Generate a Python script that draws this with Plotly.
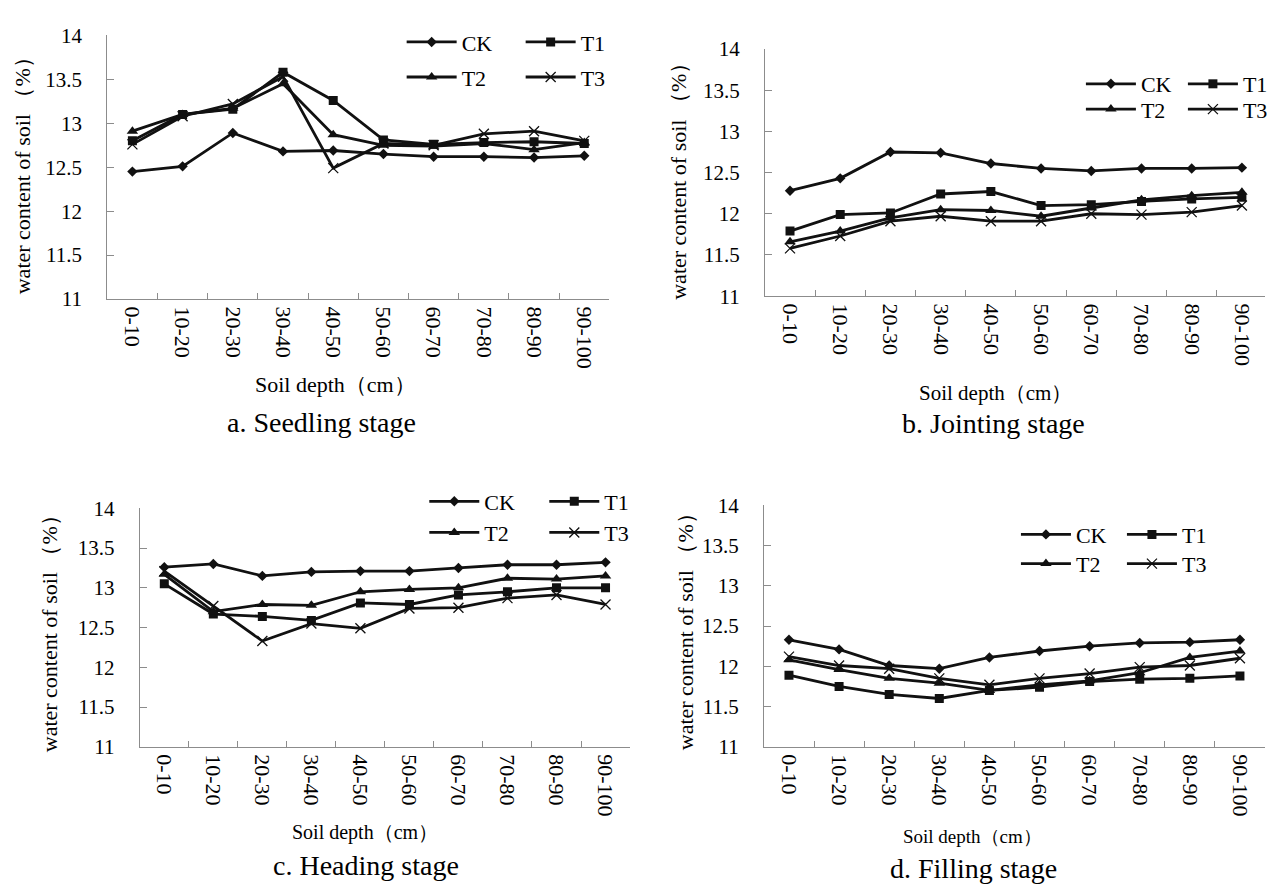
import plotly.graph_objects as go

W, H = 1285, 895

depths = ["0-10", "10-20", "20-30", "30-40", "40-50",
          "50-60", "60-70", "70-80", "80-90", "90-100"]
series_names = ["CK", "T1", "T2", "T3"]

# a. Seedling stage
seedling_ck = [12.45, 12.51, 12.89, 12.68, 12.69, 12.65, 12.62, 12.62, 12.61, 12.63]
seedling_t1 = [12.80, 13.10, 13.16, 13.58, 13.26, 12.81, 12.76, 12.78, 12.79, 12.77]
seedling_t2 = [12.91, 13.10, 13.17, 13.45, 12.87, 12.75, 12.74, 12.77, 12.70, 12.78]
seedling_t3 = [12.76, 13.08, 13.22, 13.53, 12.49, 12.77, 12.75, 12.88, 12.91, 12.80]

# b. Jointing stage
jointing_ck = [12.28, 12.43, 12.75, 12.74, 12.61, 12.55, 12.52, 12.55, 12.55, 12.56]
jointing_t1 = [11.79, 11.99, 12.01, 12.24, 12.27, 12.10, 12.11, 12.15, 12.18, 12.20]
jointing_t2 = [11.66, 11.79, 11.95, 12.05, 12.04, 11.97, 12.07, 12.17, 12.22, 12.26]
jointing_t3 = [11.58, 11.73, 11.91, 11.97, 11.91, 11.91, 12.00, 11.99, 12.02, 12.10]

# c. Heading stage
heading_ck = [13.26, 13.30, 13.15, 13.20, 13.21, 13.21, 13.25, 13.29, 13.29, 13.32]
heading_t1 = [13.05, 12.67, 12.64, 12.59, 12.81, 12.79, 12.91, 12.95, 13.00, 13.00]
heading_t2 = [13.17, 12.70, 12.79, 12.78, 12.95, 12.98, 13.00, 13.12, 13.11, 13.15]
heading_t3 = [13.21, 12.77, 12.33, 12.55, 12.49, 12.74, 12.75, 12.87, 12.91, 12.79]

# d. Filling stage
filling_ck = [12.33, 12.21, 12.01, 11.97, 12.11, 12.19, 12.25, 12.29, 12.30, 12.33]
filling_t1 = [11.89, 11.75, 11.65, 11.60, 11.70, 11.74, 11.81, 11.84, 11.85, 11.88]
filling_t2 = [12.08, 11.96, 11.85, 11.79, 11.70, 11.77, 11.82, 11.92, 12.11, 12.19]
filling_t3 = [12.12, 12.01, 11.97, 11.85, 11.77, 11.85, 11.91, 11.99, 12.01, 12.10]

panels = [
    dict(name="a. Seedling stage", data=[seedling_ck, seedling_t1, seedling_t2, seedling_t3]),
    dict(name="b. Jointing stage", data=[jointing_ck, jointing_t1, jointing_t2, jointing_t3]),
    dict(name="c. Heading stage", data=[heading_ck, heading_t1, heading_t2, heading_t3]),
    dict(name="d. Filling stage", data=[filling_ck, filling_t1, filling_t2, filling_t3]),
]

# ---- layout geometry (pixels) ----
geo = [
    dict(x0=109, x1=619, yt=24, yb=295, xend=9.5),
    dict(x0=777, x1=1285, yt=38, yb=292, xend=9.46),
    dict(x0=142, x1=640, yt=510, yb=755, xend=9.5),
    dict(x0=776, x1=1285, yt=507, yb=755, xend=9.5),
]
ytitle_pos = [(23, 163), (689, 168), (50, 633), (696, 631)]
xtitle_pos = [(341, 383, 22), (1011, 392, 21), (371, 843, 20), (988, 847, 19)]
sub_pos = [(327, 422), (1009, 423), (372, 877), (989, 880)]
legend_pos = [  # x of first line start, row1 y, row2 y, entry spacing
    (413, 31, 67, 114),
    (1103, 74, 100, 97),
    (436, 503, 535, 115),
    (1037, 537, 567, 101),
]

FONT = "Liberation Serif"
AXC = "#8c8c8c"
LC = "#111111"
ITEMW = 50

markers = [
    dict(symbol="diamond", size=8, color=LC),
    dict(symbol="square", size=9, color=LC),
    dict(symbol="triangle-up", size=10, color=LC),
    dict(symbol="x-thin-open", size=10, color=LC, line=dict(width=1.3, color=LC)),
]

def px(x):
    return x / W

def py(y):
    return 1 - y / H

fig = go.Figure()
layout = dict(
    width=W, height=H, margin=dict(l=0, r=0, t=0, b=0),
    paper_bgcolor="white", plot_bgcolor="white",
    font=dict(family=FONT, color="black"),
    showlegend=True,
)
annotations = []

for i, (p, g) in enumerate(zip(panels, geo)):
    ax = "" if i == 0 else str(i + 1)
    for j, (nm, vals) in enumerate(zip(series_names, p["data"])):
        leg_idx = 2 * i + (0 if j < 2 else 1)
        leg_name = "legend" if leg_idx == 0 else "legend%d" % (leg_idx + 1)
        fig.add_trace(go.Scatter(
            x=depths, y=vals, name=nm, mode="lines+markers",
            line=dict(color=LC, width=2.8),
            marker=markers[j],
            xaxis="x" + ax, yaxis="y" + ax,
            legend=leg_name,
            hoverinfo="skip",
        ))
    layout["xaxis" + ax] = dict(
        domain=[px(g["x0"]), min(1.0, px(g["x1"]))],
        anchor="y" + ax, type="category", categoryorder="array", categoryarray=depths,
        range=[-0.5, g["xend"]],
        tickson="boundaries", ticks="inside", ticklen=6, tickcolor=AXC, tickwidth=1,
        showline=True, linecolor=AXC, linewidth=1, showgrid=False, zeroline=False,
        tickangle=90, tickfont=dict(family=FONT, size=22, color="black"),
        ticklabelstandoff=2,
    )
    layout["yaxis" + ax] = dict(
        domain=[py(g["yb"]), py(g["yt"])],
        anchor="x" + ax, range=[11, 14], tick0=11, dtick=0.5,
        ticks="inside", ticklen=7, tickcolor=AXC, tickwidth=1,
        showline=True, linecolor=AXC, linewidth=1, showgrid=False, zeroline=False,
        tickfont=dict(family=FONT, size=21, color="black"),
        ticklabelstandoff=20,
    )
    yx, yy = ytitle_pos[i]
    annotations.append(dict(
        text="water content of soil （%）", x=px(yx), y=py(yy), xref="paper", yref="paper",
        textangle=-90, showarrow=False, xanchor="center", yanchor="middle",
        font=dict(family=FONT, size=22, color="black"),
    ))
    tx, ty, ts = xtitle_pos[i]
    annotations.append(dict(
        text="Soil depth（cm）", x=px(tx), y=py(ty), xref="paper", yref="paper",
        showarrow=False, xanchor="center", yanchor="middle",
        font=dict(family=FONT, size=ts, color="black"),
    ))
    sx, sy = sub_pos[i]
    annotations.append(dict(
        text=p["name"], x=px(sx), y=py(sy), xref="paper", yref="paper",
        showarrow=False, xanchor="center", yanchor="middle",
        font=dict(family=FONT, size=28, color="black"),
    ))
    lx, r1, r2, sp = legend_pos[i]
    for k, ry in enumerate((r1, r2)):
        leg_idx = 2 * i + k
        leg_name = "legend" if leg_idx == 0 else "legend%d" % (leg_idx + 1)
        layout[leg_name] = dict(
            orientation="h", x=px(lx - 5), y=py(ry), xanchor="left", yanchor="middle",
            xref="paper", yref="paper",
            bgcolor="rgba(0,0,0,0)", borderwidth=0,
            font=dict(family=FONT, size=22, color="black"),
            itemwidth=ITEMW,
            entrywidth=sp - ITEMW - 10, entrywidthmode="pixels",
            itemclick=False, itemdoubleclick=False,
        )

layout["annotations"] = annotations
fig.update_layout(**layout)
fig.write_html("out.html")
